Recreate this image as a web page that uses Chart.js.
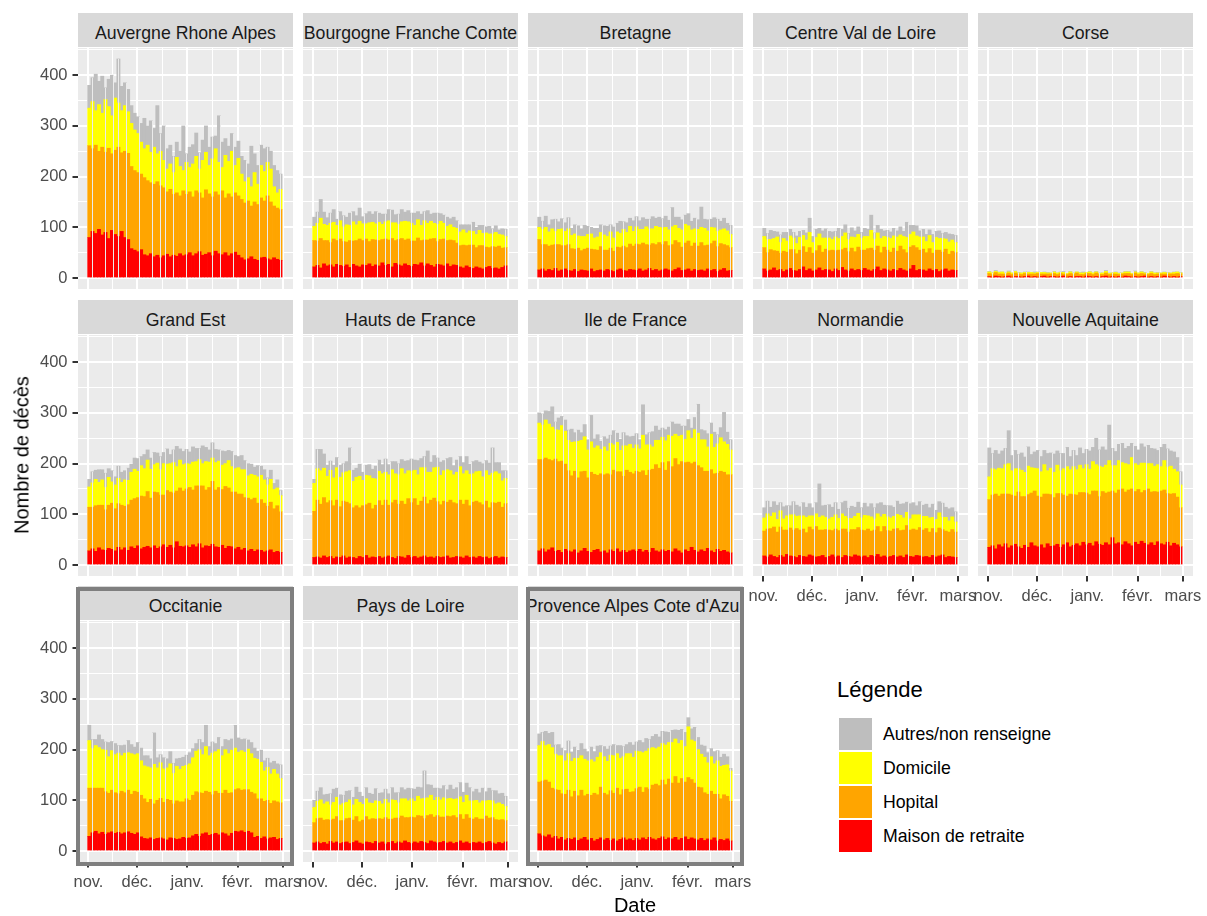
<!DOCTYPE html>
<html><head><meta charset="utf-8">
<script src="https://cdn.jsdelivr.net/npm/chart.js@4.4.1/dist/chart.umd.min.js"></script>
<style>
html,body{margin:0;padding:0;background:#fff;}
body{width:1207px;height:916px;overflow:hidden;position:relative;font-family:"Liberation Sans",Arial,sans-serif;}
canvas{position:absolute;}
.strip{position:absolute;background:#D9D9D9;color:#1A1A1A;font-size:17.7px;display:flex;align-items:center;justify-content:center;overflow:hidden;white-space:nowrap;box-sizing:border-box;padding-top:6px;}
.hbox{position:absolute;border:4px solid #7F7F7F;box-sizing:border-box;pointer-events:none;}
.txt{position:absolute;white-space:nowrap;color:#000;}
.key{position:absolute;width:33px;height:32px;}
</style></head><body>
<script>
// ---------- DATA (2-day bins, 1 Nov -> 28 Feb) ----------
const regionNames = ["Auvergne Rhone Alpes","Bourgogne Franche Comte","Bretagne","Centre Val de Loire","Corse","Grand Est","Hauts de France","Ile de France","Normandie","Nouvelle Aquitaine","Occitanie","Pays de Loire","Provence Alpes Cote d'Azur"];
const seriesNames = ["Maison de retraite","Hopital","Domicile","Autres/non renseigne"];
const legendOrder = ["Autres/non renseigne","Domicile","Hopital","Maison de retraite"];
const binDays = 2;
const monthTickDays = [0,30,61,92,120];
const monthLabels = ["nov.","déc.","janv.","févr.","mars"];
const yTickValues = [0,100,200,300,400];
const highlighted = ["Occitanie","Provence Alpes Cote d'Azur"];

const araRetraite = [80,92,88,96,85,90,78,94,86,82,92,80,76,58,55,52,56,46,44,48,42,45,40,44,47,42,45,43,48,44,46,50,44,48,52,45,47,50,44,53,48,46,50,44,48,51,45,40,36,38,42,37,35,40,41,38,36,40,37,35];
const araHopital = [181,163,174,154,173,158,178,151,166,176,155,170,170,162,157,156,149,152,148,140,143,145,142,134,123,133,120,125,114,128,119,120,116,124,116,113,127,116,116,117,116,126,108,122,112,117,117,115,112,114,100,113,110,118,111,124,114,102,101,100];
const araDomicile = [74,93,68,92,67,104,82,75,103,87,83,90,82,85,80,77,63,57,70,60,73,55,68,54,45,50,43,70,58,40,63,48,65,68,47,74,74,56,75,85,64,46,84,64,90,54,74,50,42,46,38,58,40,64,58,66,65,38,30,40];
const araAutres = [45,47,72,46,73,23,54,80,30,87,48,45,44,35,33,33,37,60,38,62,37,95,35,68,40,37,32,30,30,88,17,40,38,46,32,40,52,36,43,25,92,50,33,30,35,36,34,35,42,27,80,37,37,40,45,30,35,42,44,30];

const bfcRetraite = [22,25,20,28,24,26,22,27,25,23,26,21,27,24,22,26,25,28,23,26,24,30,25,27,22,29,26,24,28,25,23,27,26,30,24,28,25,22,27,26,24,28,23,26,25,22,20,24,21,19,22,20,18,21,23,19,20,18,21,24];
const bfcHopital = [52,48,58,46,50,44,55,47,52,49,45,53,46,50,55,48,52,44,53,49,50,46,52,48,56,45,50,54,47,52,50,46,53,44,51,47,52,56,45,50,53,46,52,48,44,42,45,40,44,46,38,44,46,40,37,43,41,45,38,36];
const bfcDomicile = [28,35,40,32,30,38,33,30,36,29,34,30,38,31,35,33,30,37,34,32,36,30,34,38,31,35,30,33,37,34,35,31,36,30,38,33,35,30,34,36,31,28,30,26,29,27,30,25,28,27,26,30,24,28,27,25,29,23,26,22];
const bfcAutres = [18,22,37,24,15,20,25,12,18,22,15,24,20,18,26,14,20,22,16,24,18,20,15,22,25,16,20,24,18,22,20,24,16,22,18,25,14,20,22,15,16,18,12,20,15,14,10,16,12,18,14,10,16,12,15,10,13,9,12,14];

const breRetraite = [16,18,14,17,15,19,14,16,18,15,14,17,13,16,15,14,18,13,15,16,14,17,15,13,16,18,15,14,17,16,15,18,14,16,19,15,17,14,16,18,16,14,17,20,15,16,18,14,17,15,16,14,18,15,17,13,16,19,14,15];
const breHopital = [60,48,52,46,50,47,52,48,46,51,44,40,46,38,42,45,39,43,40,46,41,38,44,40,45,42,48,46,50,47,52,48,55,50,46,53,49,56,50,54,48,52,57,50,46,53,55,49,52,48,54,50,47,53,56,49,52,47,50,45];
const breDomicile = [24,30,34,28,32,26,30,33,28,31,26,30,24,28,25,27,30,23,26,28,30,27,32,26,30,28,33,30,35,29,34,30,27,35,32,29,36,30,33,28,31,35,30,28,34,37,30,32,28,33,30,34,28,32,26,30,27,31,29,26];
const breAutres = [20,16,22,14,18,24,15,20,17,22,14,18,20,15,22,16,13,19,17,15,18,20,14,22,17,24,15,19,16,21,20,17,23,15,19,24,16,20,18,22,19,38,16,22,20,18,24,17,21,19,40,18,22,16,20,24,17,21,15,18];

const cvlRetraite = [18,14,16,20,15,17,13,16,19,15,14,17,22,15,18,14,16,20,15,17,16,13,18,15,21,16,14,18,15,17,15,19,16,14,17,22,15,18,16,14,17,15,19,16,14,18,25,15,17,16,14,18,15,17,13,16,18,14,16,15];
const cvlHopital = [42,36,40,34,38,32,40,35,37,41,34,38,40,36,42,35,38,44,36,40,38,42,36,40,35,43,38,41,37,44,40,36,42,45,38,41,35,43,39,37,42,38,44,40,36,43,39,45,38,41,36,40,34,38,42,35,39,33,37,35];
const cvlDomicile = [22,26,20,24,28,21,25,22,27,23,20,25,22,24,30,21,26,23,28,22,25,21,27,23,26,30,24,22,28,25,23,27,24,35,22,26,28,21,25,27,24,28,22,26,30,25,27,23,26,24,22,26,21,25,23,27,20,24,22,20];
const cvlAutres = [16,12,18,14,10,15,12,17,13,11,15,12,10,14,28,12,16,11,14,18,13,15,11,20,14,16,12,18,13,15,12,16,14,30,12,15,18,11,14,13,15,12,16,10,30,18,13,20,12,15,14,11,16,12,15,10,13,16,11,14];

const corRetraite = [3,2,4,3,2,3,4,2,3,3,2,3,4,2,3,2,3,4,2,3,3,2,3,4,2,3,2,3,3,2,4,3,2,3,2,3,4,2,3,2,3,2,4,3,2,3,2,3,4,2,3,2,3,2,4,3,2,3,2,3];
const corHopital = [6,5,7,5,6,4,6,5,7,5,5,6,4,6,5,7,5,4,6,5,6,5,6,4,5,6,5,7,4,5,5,6,5,7,5,4,6,5,5,6,4,6,5,6,5,7,5,6,4,5,6,5,5,6,4,5,6,5,7,5];
const corDomicile = [3,3,2,3,4,2,2,3,3,2,3,2,3,3,2,2,3,3,2,2,3,3,2,3,2,3,2,2,3,3,2,3,3,2,2,3,3,2,2,3,2,2,3,3,2,2,3,3,2,2,3,3,2,2,3,2,2,3,3,2];
const corAutres = [1,0,2,1,0,1,2,0,1,1,0,1,1,0,2,1,0,1,1,0,1,0,1,2,0,1,1,0,1,2,0,1,0,1,1,0,2,1,0,1,1,0,1,1,0,2,0,1,1,0,1,0,1,0,1,1,0,1,0,1];

const gesRetraite = [28,32,27,34,30,29,33,31,28,35,30,34,29,36,33,38,32,35,37,34,38,33,36,40,35,39,34,46,37,36,38,35,40,36,42,34,38,37,41,36,35,39,33,37,36,32,35,30,33,28,31,27,30,29,26,28,30,25,27,25];
const gesHopital = [86,82,90,84,88,80,85,91,83,86,88,82,90,92,98,95,104,100,108,98,106,110,102,98,112,105,108,100,115,110,112,118,108,120,114,122,110,116,124,112,118,110,122,115,108,112,105,110,100,104,98,105,92,100,96,88,94,86,90,80];
const gesDomicile = [40,48,52,45,50,44,55,42,47,50,45,52,48,55,58,52,60,55,62,57,54,58,50,62,52,56,60,48,55,52,50,46,55,48,52,44,56,50,46,54,52,48,45,54,50,46,52,48,55,44,50,45,52,48,46,42,45,38,35,32];
const gesAutres = [15,22,18,25,20,28,17,22,16,24,20,18,24,16,22,25,18,28,20,22,24,20,26,22,30,18,25,40,22,26,28,24,30,26,22,35,28,24,30,26,22,28,24,20,30,26,22,28,18,24,20,16,22,18,20,14,18,12,16,10];

const hdfRetraite = [15,16,14,18,15,17,13,16,15,18,14,16,15,13,17,15,19,14,16,15,17,14,16,18,15,13,17,16,14,19,15,17,14,16,18,15,16,14,17,15,16,18,14,15,17,16,14,18,15,16,14,17,15,16,13,15,17,14,16,15];
const hdfHopital = [91,112,106,115,108,110,104,112,100,108,110,105,98,104,96,102,100,108,95,103,110,104,112,100,108,115,103,110,106,112,108,114,104,110,116,106,112,118,108,104,110,106,114,108,104,112,106,110,102,108,112,106,104,110,100,108,105,110,98,106];
const hdfDomicile = [55,62,66,58,52,60,55,64,58,56,60,65,52,56,62,50,58,54,60,52,58,62,55,60,65,52,58,64,60,55,62,56,60,66,58,62,55,60,68,58,60,64,58,55,62,66,60,58,62,56,58,62,55,60,64,58,62,56,52,50];
const hdfAutres = [8,38,42,28,22,18,25,20,24,18,20,45,22,18,24,16,20,22,18,25,22,18,26,20,16,24,22,18,25,20,24,20,28,18,22,42,20,24,18,26,20,22,26,18,24,20,22,28,20,24,22,18,26,20,24,50,18,22,20,15];

const idfRetraite = [28,32,26,30,34,27,29,25,31,28,26,30,24,28,33,27,25,29,31,26,28,24,30,27,32,26,29,25,28,30,27,31,26,29,25,33,28,26,30,27,29,26,32,28,24,30,27,35,29,26,30,27,33,28,25,31,27,29,26,24];
const idfHopital = [180,176,185,178,172,182,175,180,168,158,150,155,148,156,152,145,158,150,146,154,150,156,148,160,152,158,146,162,155,150,158,152,160,148,162,156,170,165,172,160,175,168,178,170,180,172,176,165,174,170,162,158,152,160,155,150,158,154,152,154];
const idfDomicile = [72,68,75,70,66,58,62,70,65,60,66,58,72,62,68,55,60,52,58,48,55,45,62,50,58,42,60,48,55,50,52,46,70,60,50,44,48,55,50,58,52,60,48,56,52,46,62,50,64,64,55,62,48,70,52,58,66,60,60,49];
const idfAutres = [20,22,18,25,40,15,24,18,22,20,26,18,22,15,24,20,52,18,22,16,20,24,16,28,18,22,26,20,15,24,22,18,60,20,24,30,28,20,18,22,16,28,20,24,18,26,22,20,24,57,20,18,26,22,30,18,20,58,24,20];

const norRetraite = [18,16,20,17,15,19,16,21,18,17,15,19,17,16,20,18,16,17,19,15,17,20,16,18,15,19,17,16,20,18,16,18,15,19,17,21,16,18,15,17,19,16,18,15,20,17,16,19,18,16,17,15,19,16,18,20,15,17,16,15];
const norHopital = [49,55,52,58,50,56,53,48,55,52,57,50,54,48,55,52,60,52,50,55,52,48,55,50,56,52,48,54,50,56,53,50,56,48,52,55,50,58,53,50,52,56,50,54,58,52,55,50,56,53,55,50,53,48,55,50,52,48,54,50];
const norDomicile = [26,30,24,28,25,32,22,28,26,30,24,28,26,30,22,27,25,25,28,24,22,26,28,24,30,25,27,22,26,28,24,30,26,28,22,25,29,24,27,26,25,28,30,24,26,22,28,30,25,27,24,28,22,26,30,24,27,22,25,20];
const norAutres = [20,25,18,22,28,16,24,20,18,26,22,18,26,20,24,16,22,66,20,24,28,20,24,18,22,30,20,24,18,22,20,24,18,26,22,20,28,18,22,24,18,26,22,28,20,30,24,18,26,22,24,20,26,18,22,28,20,24,18,20];

const naqRetraite = [35,38,32,40,36,42,34,38,41,36,33,39,35,44,38,36,40,34,42,37,38,41,35,40,44,36,39,42,38,45,40,43,38,46,41,39,44,40,54,42,44,40,46,42,38,45,41,47,43,40,44,39,46,42,40,45,38,43,40,36];
const naqHopital = [94,100,108,96,104,98,106,100,95,108,102,96,104,98,108,100,94,106,98,102,95,100,106,98,92,104,100,96,105,98,102,96,108,100,94,106,98,104,92,100,104,110,98,106,112,100,108,96,104,110,100,106,98,104,108,96,102,98,94,77];
const naqDomicile = [45,52,48,55,50,58,60,48,54,46,52,48,56,50,45,54,50,58,46,52,50,56,45,52,58,48,55,50,54,47,56,50,58,52,60,48,55,62,50,54,58,52,56,50,62,55,48,58,54,50,56,50,54,48,58,52,55,48,50,45];
const naqAutres = [57,30,38,28,35,32,65,30,36,28,34,30,38,26,32,36,30,28,34,30,36,28,34,30,38,26,32,28,34,30,30,36,28,52,32,40,30,70,34,28,32,38,30,36,28,34,30,38,32,36,30,34,28,38,32,36,30,34,28,26];

const occRetraite = [29,36,39,34,37,33,36,38,35,37,34,36,38,35,33,36,28,25,24,26,23,25,26,24,22,26,25,23,24,27,25,26,30,33,29,34,36,31,33,35,32,36,34,30,35,39,38,40,37,39,36,27,29,25,28,24,26,27,23,25];
const occHopital = [95,88,85,90,87,84,78,82,80,76,84,79,82,77,85,80,82,78,72,76,70,75,78,72,80,74,68,76,73,70,78,74,80,84,86,80,82,85,78,83,82,78,86,84,80,82,85,80,84,82,80,86,74,78,70,76,68,72,74,70];
const occDomicile = [94,78,84,80,76,82,72,78,75,80,70,78,74,80,72,76,68,65,70,62,78,64,70,66,62,72,60,68,64,70,66,72,74,80,85,76,88,72,82,78,86,74,80,78,84,82,72,78,74,80,76,70,78,72,60,65,58,62,55,48];
const occAutres = [30,18,12,25,20,16,28,18,22,15,20,16,24,18,15,22,25,20,22,18,62,20,16,22,18,24,20,15,22,18,20,22,18,15,20,24,42,18,22,16,24,18,20,26,22,45,28,22,26,18,22,20,16,24,20,18,22,16,20,27];

const pdlRetraite = [16,18,15,17,14,19,16,18,15,17,18,15,17,20,16,14,18,17,15,19,16,18,14,17,19,15,18,16,20,17,15,18,16,19,17,15,20,18,16,17,19,16,18,15,17,20,16,18,15,17,16,18,15,17,19,16,14,17,15,18];
const pdlHopital = [40,46,50,44,48,42,47,50,45,43,46,50,44,48,42,47,50,45,49,44,48,45,52,46,44,50,47,53,46,49,52,48,54,50,47,55,52,49,54,50,48,53,50,55,49,52,47,54,50,46,50,45,48,52,46,50,48,44,47,42];
const pdlDomicile = [30,34,36,32,35,30,33,38,31,34,32,36,30,34,38,31,35,33,30,36,34,30,36,32,38,35,30,34,37,33,36,32,38,34,40,35,38,33,36,34,38,34,36,32,37,35,33,38,34,36,34,32,36,30,35,33,31,34,30,28];
const pdlAutres = [14,20,24,18,15,22,26,18,20,16,22,18,15,24,20,16,22,19,18,24,16,22,20,18,24,15,20,22,18,25,20,24,18,22,54,26,20,24,18,22,24,18,26,20,22,28,20,24,26,18,22,20,25,18,24,20,26,18,22,20];

const pacRetraite = [34,30,28,32,26,29,24,27,22,25,23,26,21,24,27,22,25,20,23,26,22,25,21,24,20,23,26,22,24,21,25,22,26,23,27,24,22,25,28,23,26,24,27,22,25,28,23,26,24,22,25,21,24,22,26,20,23,21,24,20];
const pacHopital = [102,108,112,104,98,92,96,86,90,95,84,92,88,96,82,90,85,94,88,100,92,86,98,90,104,88,95,100,92,96,98,104,90,102,95,106,110,104,112,108,116,110,120,112,118,108,122,115,110,104,100,94,88,96,86,92,80,90,84,78];
const pacDomicile = [72,78,68,74,80,70,68,75,66,72,70,65,74,68,72,66,70,62,74,68,72,66,70,74,68,72,65,70,76,68,74,70,78,72,80,74,70,76,72,78,72,80,74,78,75,70,100,78,82,74,66,70,62,68,60,66,64,58,62,60];
const pacAutres = [23,18,28,22,30,18,22,15,20,25,18,22,16,24,20,18,25,20,22,14,20,24,18,22,16,25,20,18,22,24,18,22,20,25,18,22,28,20,24,26,20,24,18,26,22,28,18,22,28,24,18,22,20,16,24,20,18,22,16,5];

const regionSeries = [
  [araRetraite,araHopital,araDomicile,araAutres],
  [bfcRetraite,bfcHopital,bfcDomicile,bfcAutres],
  [breRetraite,breHopital,breDomicile,breAutres],
  [cvlRetraite,cvlHopital,cvlDomicile,cvlAutres],
  [corRetraite,corHopital,corDomicile,corAutres],
  [gesRetraite,gesHopital,gesDomicile,gesAutres],
  [hdfRetraite,hdfHopital,hdfDomicile,hdfAutres],
  [idfRetraite,idfHopital,idfDomicile,idfAutres],
  [norRetraite,norHopital,norDomicile,norAutres],
  [naqRetraite,naqHopital,naqDomicile,naqAutres],
  [occRetraite,occHopital,occDomicile,occAutres],
  [pdlRetraite,pdlHopital,pdlDomicile,pdlAutres],
  [pacRetraite,pacHopital,pacDomicile,pacAutres]
];

// ---------- STYLE / LAYOUT ----------
const seriesColors = {"Maison de retraite":"#FF0000","Hopital":"#FFA500","Domicile":"#FFFF00","Autres/non renseigne":"#BEBEBE"};
const COL_X = [78,303,528,753,978], ROW_Y = [48,335,621], PW = 215, PH = 241;
const ML = 60, MR = 30, MT = 25, MB = 40, YAXW = 45, XAXH = 35;
const X_MIN = -6.45, X_MAX = 126.2, Y_MIN = -21.6, Y_MAX = 453.6;
const GAP = 0.1;
const TICK_FONT = {family:"'Liberation Sans', Arial, sans-serif", size:16.5};

const xMinor = monthTickDays.slice(1).map((d,i)=>(d+monthTickDays[i])/2);
const xTicks = monthTickDays.concat(xMinor).sort((a,b)=>a-b);
const yMinor = yTickValues.map(v=>v+50);
const yTicks = yTickValues.concat(yMinor).sort((a,b)=>a-b);

Chart.defaults.font.family = "'Liberation Sans', Arial, sans-serif";

const bgPlugin = {id:'panelBg', beforeDraw(chart){
  const a = chart.chartArea, c = chart.ctx;
  c.save(); c.fillStyle = '#EBEBEB'; c.fillRect(a.left, a.top, a.right-a.left, a.bottom-a.top); c.restore();
}};
function makeGapPlugin(totals){
  return {id:'barGaps', afterDatasetsDraw(chart){
    const xs = chart.scales.x, ys = chart.scales.y, a = chart.chartArea, c = chart.ctx;
    c.save(); c.beginPath(); c.rect(a.left, a.top, a.right-a.left, a.bottom-a.top); c.clip();
    c.fillStyle = '#EBEBEB';
    const nDays = totals.length*binDays;
    const y0 = ys.getPixelForValue(0);
    for (let d=0; d<nDays-1; d++){
      const L = xs.getPixelForValue(d+0.5-GAP/2), R = xs.getPixelForValue(d+0.5+GAP/2);
      const col = Math.ceil(L-0.5);
      if (Math.ceil(R-0.5) > col){
        const h = Math.max(totals[Math.floor(d/binDays)], totals[Math.floor((d+1)/binDays)]);
        const yt = ys.getPixelForValue(h);
        c.fillRect(col, yt, 1, y0-yt);
      }
    }
    c.restore();
  }};
}

regionNames.forEach((name, k)=>{
  const row = Math.floor(k/5), col = k%5;
  const showY = col===0;
  const showX = row===2 || (row===1 && col>=3);
  const vals = regionSeries[k];
  const totals = vals[0].map((_,i)=>vals.reduce((s,arr)=>s+arr[i],0));
  const cv = document.createElement('canvas');
  cv.width = ML+PW+MR; cv.height = MT+PH+MB;
  cv.style.left = (COL_X[col]-ML)+'px'; cv.style.top = (ROW_Y[row]-MT)+'px';
  document.body.appendChild(cv);
  new Chart(cv, {
    type:'bar',
    data:{datasets: seriesNames.map((s,si)=>({
      label:s,
      data: vals[si].map((v,i)=>({x: i*binDays+0.5, y: v})),
      backgroundColor: seriesColors[s], borderWidth:0,
      barPercentage:1, categoryPercentage:1
    }))},
    options:{
      responsive:false, animation:false, devicePixelRatio:1,
      events:[],
      layout:{padding:{left: ML-(showY?YAXW:0), right: MR, top: MT, bottom: MB-(showX?XAXH:0)}},
      plugins:{legend:{display:false}, tooltip:{enabled:false}},
      scales:{
        x:{type:'linear', stacked:true, offset:false, min:X_MIN, max:X_MAX,
          afterBuildTicks: s=>{ s.ticks = xTicks.map(v=>({value:v})); },
          afterFit: s=>{ s.height = showX?XAXH:0; },
          ticks:{display:showX, autoSkip:false, maxRotation:0, minRotation:0, padding:5, color:'#4D4D4D', font:TICK_FONT,
            callback: v=>{ const i = monthTickDays.indexOf(v); return i>=0 ? monthLabels[i] : ''; }},
          grid:{offset:false, color:'#FFFFFF',
            lineWidth: ctx=> monthTickDays.includes(ctx.tick && ctx.tick.value) ? 2 : 1,
            drawTicks:showX, tickLength:5.5, tickWidth:2,
            tickColor: ctx=> monthTickDays.includes(ctx.tick && ctx.tick.value) ? '#333333' : 'rgba(0,0,0,0)'},
          border:{display:false}},
        y:{type:'linear', stacked:true, min:Y_MIN, max:Y_MAX,
          afterBuildTicks: s=>{ s.ticks = yTicks.map(v=>({value:v})); },
          afterFit: s=>{ s.width = showY?YAXW:0; },
          ticks:{display:showY, padding:5, color:'#4D4D4D', font:TICK_FONT,
            callback: v=> yTickValues.includes(v) ? String(v) : ''},
          grid:{color:'#FFFFFF',
            lineWidth: ctx=> yTickValues.includes(ctx.tick && ctx.tick.value) ? 2 : 1,
            drawTicks:showY, tickLength:5.5, tickWidth:2,
            tickColor: ctx=> yTickValues.includes(ctx.tick && ctx.tick.value) ? '#333333' : 'rgba(0,0,0,0)'},
          border:{display:false}}
      }
    },
    plugins:[bgPlugin, makeGapPlugin(totals)]
  });
  const st = document.createElement('div');
  st.className = 'strip';
  st.style.left = COL_X[col]+'px'; st.style.top = (ROW_Y[row]-35)+'px';
  st.style.width = PW+'px'; st.style.height = '34px';
  st.textContent = name;
  document.body.appendChild(st);
  if (highlighted.includes(name)){
    const b = document.createElement('div');
    b.className = 'hbox';
    b.style.left = (COL_X[col]-2)+'px'; b.style.top = (ROW_Y[row]-34)+'px';
    b.style.width = (PW+3)+'px'; b.style.height = (PH+38)+'px';
    document.body.appendChild(b);
  }
});

// axis titles
function addText(t, css){ const d = document.createElement('div'); d.className='txt'; d.textContent=t; Object.assign(d.style, css); document.body.appendChild(d); return d; }
addText('Nombre de décès', {left:'22px', top:'455px', fontSize:'20px', transform:'translate(-50%,-50%) rotate(-90deg)'});
addText('Date', {left:'635px', top:'905px', fontSize:'20px', transform:'translate(-50%,-50%)'});
// legend
addText('Légende', {left:'837px', top:'690px', fontSize:'22px', transform:'translateY(-50%)'});
legendOrder.forEach((s,i)=>{
  const k = document.createElement('div'); k.className='key';
  k.style.left='839px'; k.style.top=(718+34*i)+'px'; k.style.background=seriesColors[s];
  document.body.appendChild(k);
  addText(s, {left:'883px', top:(734+34*i)+'px', fontSize:'17.7px', color:'#000', transform:'translateY(-50%)'});
});
</script>
</body></html>
